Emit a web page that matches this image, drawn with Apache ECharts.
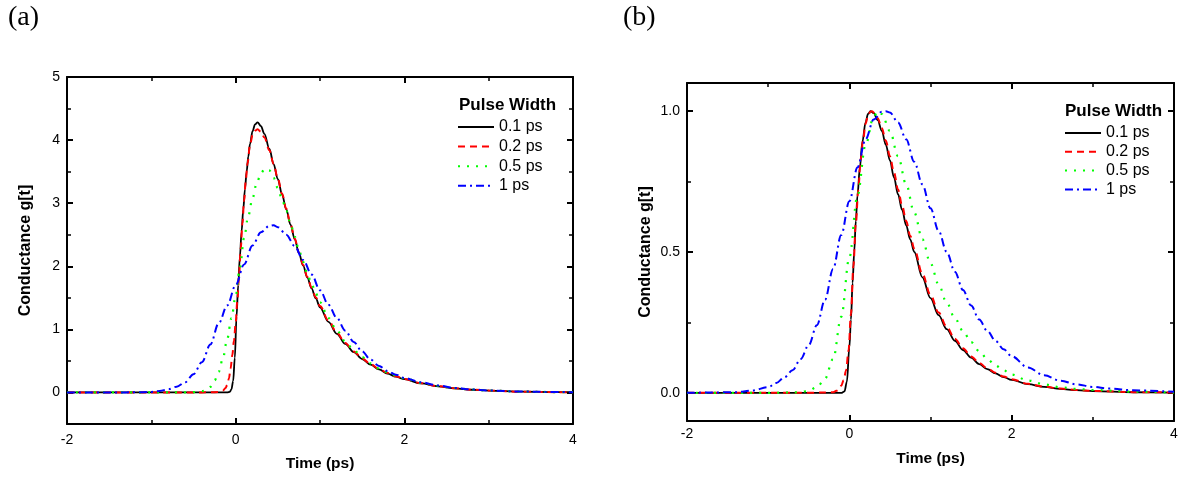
<!DOCTYPE html>
<html>
<head>
<meta charset="utf-8">
<script src="https://cdn.jsdelivr.net/npm/echarts@6/dist/echarts.min.js"></script>
<style>
  html, body { margin: 0; padding: 0; background: #fff; }
  #chart { width: 1185px; height: 477px; }
</style>
</head>
<body>
<div id="chart"></div>
<script>
// ---------- data ----------
const seriesNames = ['0.1 ps', '0.2 ps', '0.5 ps', '1 ps'];
const legendTitle = 'Pulse Width';
const xTitle = 'Time (ps)';
const yTitle = 'Conductance g[t]';
const panelLabels = ['(a)', '(b)'];

const xTicks = [-2, 0, 2, 4];
const xMinorTicks = [-1, 1, 3];
const yTicksA = [0, 1, 2, 3, 4, 5];
const yMinorTicksA = [0.5, 1.5, 2.5, 3.5, 4.5];
const yTicksB = [0, 0.5, 1.0];
const yMinorTicksB = [0.25, 0.75];

// Panel (a): conductance
const tA1 = [-2, -1, -0.5, -0.2, -0.1, -0.07, -0.05, -0.03, -0.01, 0.01, 0.03, 0.05, 0.07, 0.09, 0.11, 0.13, 0.15, 0.17, 0.2, 0.23, 0.26, 0.3, 0.34, 0.4, 0.45, 0.5, 0.55, 0.6, 0.65, 0.7, 0.75, 0.8, 0.85, 0.9, 0.95, 1.0, 1.1, 1.2, 1.3, 1.4, 1.5, 1.6, 1.7, 1.8, 1.9, 2.0, 2.2, 2.4, 2.6, 2.8, 3.0, 3.4, 3.8, 4.0];
const gA1 = [0, 0, 0, 0, 0.002, 0.01, 0.05, 0.18, 0.55, 1.2, 1.7, 2.15, 2.55, 2.9, 3.22, 3.5, 3.74, 3.94, 4.14, 4.25, 4.28, 4.22, 4.1, 3.86, 3.62, 3.38, 3.14, 2.9, 2.66, 2.43, 2.21, 2.01, 1.82, 1.65, 1.49, 1.35, 1.12, 0.93, 0.77, 0.64, 0.53, 0.44, 0.365, 0.3, 0.25, 0.21, 0.143, 0.097, 0.064, 0.043, 0.029, 0.012, 0.005, 0.003];

const tA2 = [-2, -1, -0.5, -0.3, -0.2, -0.15, -0.12, -0.1, -0.08, -0.06, -0.04, -0.02, 0, 0.02, 0.04, 0.06, 0.08, 0.1, 0.12, 0.14, 0.17, 0.2, 0.23, 0.26, 0.3, 0.34, 0.4, 0.45, 0.5, 0.55, 0.6, 0.65, 0.7, 0.75, 0.8, 0.85, 0.9, 0.95, 1.0, 1.1, 1.2, 1.3, 1.4, 1.5, 1.6, 1.7, 1.8, 1.9, 2.0, 2.2, 2.4, 2.6, 2.8, 3.0, 3.4, 3.8, 4.0];
const gA2 = [0, 0, 0, 0.002, 0.008, 0.03, 0.07, 0.12, 0.22, 0.38, 0.59, 0.82, 1.1, 1.45, 1.86, 2.28, 2.68, 3.04, 3.36, 3.63, 3.92, 4.08, 4.15, 4.17, 4.13, 4.04, 3.84, 3.62, 3.39, 3.15, 2.91, 2.67, 2.44, 2.22, 2.02, 1.83, 1.66, 1.51, 1.37, 1.14, 0.945, 0.785, 0.65, 0.54, 0.45, 0.37, 0.31, 0.255, 0.213, 0.146, 0.099, 0.066, 0.044, 0.03, 0.012, 0.005, 0.003];

const tA3 = [-2, -1, -0.7, -0.5, -0.4, -0.35, -0.3, -0.25, -0.2, -0.15, -0.1, -0.05, 0, 0.05, 0.1, 0.15, 0.2, 0.25, 0.3, 0.35, 0.4, 0.45, 0.5, 0.55, 0.6, 0.65, 0.7, 0.75, 0.8, 0.85, 0.9, 0.95, 1.0, 1.1, 1.2, 1.3, 1.4, 1.5, 1.6, 1.7, 1.8, 1.9, 2.0, 2.2, 2.4, 2.6, 2.8, 3.0, 3.4, 3.8, 4.0];
const gA3 = [0, 0, 0, 0.005, 0.02, 0.04, 0.09, 0.19, 0.33, 0.55, 0.85, 1.18, 1.53, 1.98, 2.45, 2.8, 3.08, 3.32, 3.48, 3.55, 3.52, 3.4, 3.24, 3.06, 2.88, 2.68, 2.47, 2.26, 2.07, 1.88, 1.72, 1.57, 1.43, 1.18, 0.98, 0.81, 0.67, 0.56, 0.46, 0.38, 0.32, 0.27, 0.225, 0.152, 0.103, 0.068, 0.046, 0.031, 0.013, 0.006, 0.004];

const tA4 = [-2, -1.4, -1.2, -1.0, -0.9, -0.8, -0.7, -0.6, -0.5, -0.4, -0.3, -0.2, -0.1, 0, 0.1, 0.2, 0.3, 0.4, 0.45, 0.5, 0.6, 0.7, 0.8, 0.9, 1.0, 1.1, 1.2, 1.3, 1.4, 1.5, 1.6, 1.7, 1.8, 1.9, 2.0, 2.2, 2.4, 2.6, 2.8, 3.0, 3.4, 3.8, 4.0];
const gA4 = [0, 0, 0.002, 0.008, 0.025, 0.05, 0.09, 0.16, 0.29, 0.48, 0.76, 1.1, 1.38, 1.7, 2.03, 2.33, 2.54, 2.64, 2.65, 2.62, 2.5, 2.32, 2.1, 1.87, 1.62, 1.39, 1.18, 0.98, 0.8, 0.65, 0.52, 0.42, 0.34, 0.28, 0.23, 0.16, 0.11, 0.072, 0.047, 0.031, 0.014, 0.006, 0.004];

// Panel (b): normalised conductance
const tB1 = [-2, -1, -0.5, -0.1, -0.06, -0.03, 0, 0.02, 0.04, 0.06, 0.08, 0.1, 0.13, 0.16, 0.2, 0.23, 0.26, 0.3, 0.35, 0.4, 0.45, 0.5, 0.55, 0.6, 0.65, 0.7, 0.75, 0.8, 0.9, 1.0, 1.1, 1.2, 1.3, 1.4, 1.5, 1.6, 1.7, 1.8, 1.9, 2.0, 2.2, 2.4, 2.6, 2.8, 3.0, 3.5, 4.0];
const gB1 = [0, 0, 0, 0, 0.005, 0.04, 0.16, 0.26, 0.39, 0.5, 0.61, 0.7, 0.8, 0.89, 0.96, 0.99, 1.0, 0.993, 0.968, 0.93, 0.88, 0.825, 0.765, 0.705, 0.65, 0.595, 0.545, 0.5, 0.41, 0.336, 0.276, 0.226, 0.185, 0.152, 0.125, 0.102, 0.084, 0.069, 0.056, 0.046, 0.031, 0.021, 0.014, 0.0095, 0.0064, 0.002, 0.001];

const tB2 = [-2, -1, -0.5, -0.2, -0.15, -0.1, -0.07, -0.04, -0.01, 0.02, 0.05, 0.08, 0.11, 0.14, 0.17, 0.2, 0.23, 0.26, 0.28, 0.32, 0.35, 0.4, 0.45, 0.5, 0.55, 0.6, 0.65, 0.7, 0.75, 0.8, 0.9, 1.0, 1.1, 1.2, 1.3, 1.4, 1.5, 1.6, 1.7, 1.8, 1.9, 2.0, 2.2, 2.4, 2.6, 2.8, 3.0, 3.5, 4.0];
const gB2 = [0, 0, 0, 0.002, 0.008, 0.025, 0.045, 0.08, 0.15, 0.28, 0.45, 0.6, 0.72, 0.83, 0.9, 0.955, 0.985, 0.998, 1.0, 0.99, 0.975, 0.94, 0.895, 0.84, 0.782, 0.722, 0.665, 0.61, 0.558, 0.512, 0.422, 0.347, 0.285, 0.234, 0.192, 0.158, 0.129, 0.106, 0.087, 0.071, 0.058, 0.048, 0.032, 0.022, 0.015, 0.01, 0.0067, 0.0025, 0.001];

const tB3 = [-2, -1, -0.6, -0.5, -0.4, -0.3, -0.2, -0.1, 0, 0.1, 0.2, 0.3, 0.35, 0.4, 0.5, 0.6, 0.7, 0.8, 0.9, 1.0, 1.1, 1.2, 1.3, 1.4, 1.5, 1.6, 1.7, 1.8, 1.9, 2.0, 2.2, 2.4, 2.6, 2.8, 3.0, 3.5, 4.0];
const gB3 = [0, 0, 0.002, 0.008, 0.02, 0.05, 0.12, 0.27, 0.48, 0.7, 0.88, 0.98, 1.0, 0.99, 0.93, 0.84, 0.74, 0.64, 0.545, 0.46, 0.385, 0.32, 0.265, 0.22, 0.18, 0.148, 0.12, 0.097, 0.08, 0.065, 0.044, 0.03, 0.02, 0.014, 0.01, 0.004, 0.001];

const tB4 = [-2, -1.4, -1.2, -1.0, -0.9, -0.8, -0.7, -0.6, -0.5, -0.4, -0.3, -0.2, -0.1, 0, 0.1, 0.2, 0.3, 0.4, 0.45, 0.5, 0.6, 0.7, 0.8, 0.9, 1.0, 1.1, 1.2, 1.3, 1.4, 1.5, 1.6, 1.7, 1.8, 1.9, 2.0, 2.2, 2.4, 2.6, 2.8, 3.0, 3.2, 3.5, 4.0];
const gB4 = [0, 0.002, 0.008, 0.02, 0.035, 0.055, 0.08, 0.12, 0.17, 0.24, 0.33, 0.44, 0.56, 0.68, 0.8, 0.9, 0.97, 0.998, 1.0, 0.995, 0.96, 0.9, 0.82, 0.74, 0.655, 0.575, 0.5, 0.43, 0.365, 0.31, 0.26, 0.22, 0.185, 0.155, 0.13, 0.09, 0.062, 0.043, 0.03, 0.021, 0.015, 0.009, 0.004];

// ---------- styling ----------
const FONT = "'Liberation Sans', Arial, Helvetica, sans-serif";
const SERIF = "'Liberation Serif', 'Times New Roman', serif";
const lineStyles = [
  { color: '#000000', width: 1.8, type: 'solid' },
  { color: '#ff0000', width: 2, type: [7, 5] },
  { color: '#00ff00', width: 2.2, type: [2, 7] },
  { color: '#0000ff', width: 2, type: [8, 4, 2, 4] }
];

const zip = (t, g) => t.map((v, i) => [v, g[i]]);

const grids = [
  { left: 67, top: 77, width: 506, height: 349 },
  { left: 687, top: 83, width: 487, height: 338 }
];

// Each panel gets 4 x-axes and 4 y-axes: major/minor inward ticks on every side of the frame.
function panelAxes(gi, cfg) {
  const xs = [], ys = [];
  const xBase = { gridIndex: gi, type: 'value', min: -2, max: 4, splitLine: { show: false } };
  const yBase = { gridIndex: gi, type: 'value', min: cfg.yMin, max: cfg.yMax, splitLine: { show: false } };
  const lineOn = { show: true, onZero: false, lineStyle: { color: '#000', width: 2 } };
  const lineOff = { show: false, onZero: false };
  const tickMaj = vals => ({ show: true, inside: true, length: 6, customValues: vals, lineStyle: { color: '#000', width: 2 } });
  const tickMin = vals => ({ show: true, inside: true, length: 4, customValues: vals, lineStyle: { color: '#000', width: 1.5 } });
  ['bottom', 'top'].forEach(pos => {
    xs.push(Object.assign({}, xBase, {
      position: pos,
      axisLine: lineOn,
      axisTick: tickMaj(xTicks),
      axisLabel: pos === 'bottom'
        ? { show: true, customValues: xTicks, margin: cfg.xLabelMargin, color: '#000', fontSize: 14, fontFamily: FONT }
        : { show: false },
      name: pos === 'bottom' ? xTitle : '',
      nameLocation: 'middle',
      nameGap: cfg.xNameGap,
      nameTextStyle: { color: '#000', fontSize: 15.5, fontWeight: 'bold', fontFamily: FONT }
    }));
    xs.push(Object.assign({}, xBase, {
      position: pos, axisLine: lineOff, axisTick: tickMin(xMinorTicks), axisLabel: { show: false }
    }));
  });
  ['left', 'right'].forEach(pos => {
    ys.push(Object.assign({}, yBase, {
      position: pos,
      axisLine: lineOn,
      axisTick: tickMaj(cfg.yTicks),
      axisLabel: pos === 'left'
        ? { show: true, customValues: cfg.yTicks, margin: 7, color: '#000', fontSize: 14, fontFamily: FONT, formatter: cfg.fmt }
        : { show: false },
      name: pos === 'left' ? yTitle : '',
      nameLocation: 'middle',
      nameGap: 33,
      nameRotate: 90,
      nameTextStyle: { color: '#000', fontSize: 16, fontWeight: 'bold', fontFamily: FONT }
    }));
    ys.push(Object.assign({}, yBase, {
      position: pos, axisLine: lineOff, axisTick: tickMin(cfg.yMinor), axisLabel: { show: false }
    }));
  });
  return { xs, ys };
}

const axA = panelAxes(0, { yMin: -0.5, yMax: 5, yTicks: yTicksA, yMinor: yMinorTicksA, fmt: v => String(v), xLabelMargin: 9, xNameGap: 32 });
const axB = panelAxes(1, { yMin: -0.1, yMax: 1.1, yTicks: yTicksB, yMinor: yMinorTicksB, fmt: v => v.toFixed(1), xLabelMargin: 6, xNameGap: 30 });

const panelData = [
  [zip(tA1, gA1), zip(tA2, gA2), zip(tA3, gA3), zip(tA4, gA4)],
  [zip(tB1, gB1), zip(tB2, gB2), zip(tB3, gB3), zip(tB4, gB4)]
];

const series = [];
panelData.forEach((curves, p) => {
  curves.forEach((pts, k) => {
    series.push({
      type: 'line',
      name: seriesNames[k],
      xAxisIndex: p * 4,
      yAxisIndex: p * 4,
      data: pts,
      symbol: 'none',
      smooth: 0.35,
      smoothMonotone: 'x',
      silent: true,
      color: lineStyles[k].color,
      itemStyle: { color: lineStyles[k].color },
      lineStyle: lineStyles[k],
      z: 2 + k
    });
  });
});

function legendAt(left, top, gap) {
  return {
    show: true, orient: 'vertical', left, top, padding: 0,
    itemWidth: 36, itemHeight: 14, itemGap: gap,
    selectedMode: false,
    data: seriesNames,
    itemStyle: { opacity: 0 },
    textStyle: { color: '#000', fontSize: 16, lineHeight: 16, fontFamily: FONT }
  };
}

const option = {
  backgroundColor: '#ffffff',
  animation: false,
  grid: grids,
  xAxis: axA.xs.concat(axB.xs),
  yAxis: axA.ys.concat(axB.ys),
  legend: [legendAt(457, 119, 3.6), legendAt(1064, 125, 2.8)],
  graphic: [
    { type: 'text', left: 8, top: 4, style: { text: panelLabels[0], font: '28px ' + SERIF, fill: '#000' } },
    { type: 'text', left: 623, top: 4, style: { text: panelLabels[1], font: '28px ' + SERIF, fill: '#000' } },
    { type: 'text', left: 459, top: 97, style: { text: legendTitle, font: 'bold 17px ' + FONT, fill: '#000' } },
    { type: 'text', left: 1065, top: 103, style: { text: legendTitle, font: 'bold 17px ' + FONT, fill: '#000' } }
  ],
  series
};

const chart = echarts.init(document.getElementById('chart'), null, { renderer: 'canvas' });
chart.setOption(option);
</script>
</body>
</html>
